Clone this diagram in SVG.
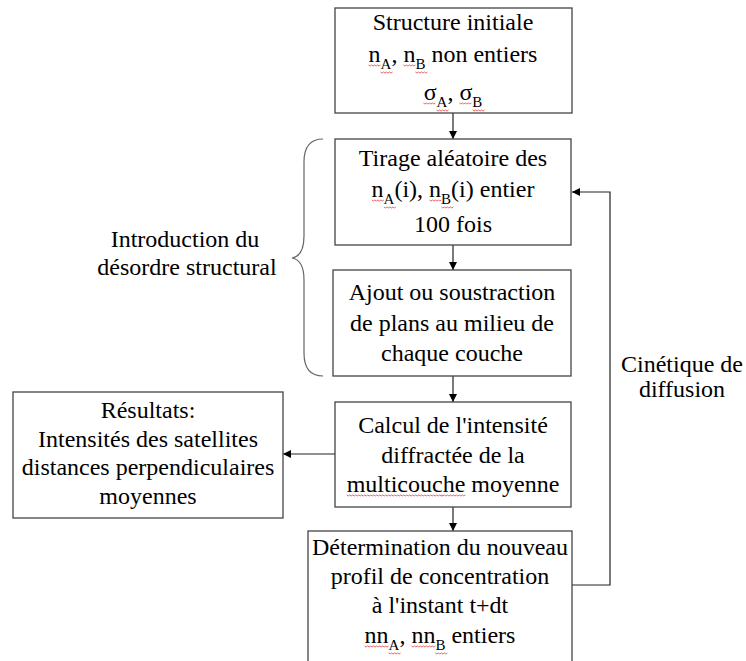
<svg xmlns="http://www.w3.org/2000/svg" width="746" height="661" viewBox="0 0 746 661">
<style>
.box{fill:#fff;stroke:#444;stroke-width:1.3}
.t{font-family:"Liberation Serif","Times New Roman",Times,serif;font-size:24px;fill:#000;text-anchor:middle}
.s{font-size:15px}
.c{fill:none;stroke:#222;stroke-width:1.2}
.br{fill:none;stroke:#666;stroke-width:1.2}
.wv{fill:none;stroke:#e04040;stroke-width:0.8}
</style>
<defs>
<marker id="ah" markerWidth="8" markerHeight="10" refX="8" refY="5" orient="auto" markerUnits="userSpaceOnUse">
<path d="M0,1 L8,5 L0,9 Z" fill="#000"/>
</marker>
<path id="w12" class="wv" d="M0,0l1.5,1l1.5,-1l1.5,1l1.5,-1l1.5,1l1.5,-1l1.5,1l1.5,-1"/>
<path id="w24" class="wv" d="M0,0l1.5,1l1.5,-1l1.5,1l1.5,-1l1.5,1l1.5,-1l1.5,1l1.5,-1l1.5,1l1.5,-1l1.5,1l1.5,-1l1.5,1l1.5,-1l1.5,1l1.5,-1"/>
</defs>
<rect width="746" height="661" fill="#fff"/>
<g id="connectors">
<line class="c" x1="453" y1="113" x2="453" y2="139" marker-end="url(#ah)"/>
<line class="c" x1="453" y1="245" x2="453" y2="270" marker-end="url(#ah)"/>
<line class="c" x1="453" y1="376" x2="453" y2="402" marker-end="url(#ah)"/>
<line class="c" x1="453" y1="507" x2="453" y2="531" marker-end="url(#ah)"/>
<line class="c" x1="335" y1="454" x2="283" y2="454" marker-end="url(#ah)"/>
<polyline class="c" points="572,585 610,585 610,192 572,192" marker-end="url(#ah)"/>
</g>
<g id="n1">
<rect class="box" x="335" y="8" width="237" height="105"/>
<text class="t" x="453" y="30">Structure initiale</text>
<text class="t" x="453" y="62">n<tspan class="s" dy="7">A</tspan><tspan dy="-7">, n</tspan><tspan class="s" dy="7">B</tspan><tspan dy="-7"> non entiers</tspan></text>
<text class="t" x="453" y="100">σ<tspan class="s" dy="7">A</tspan><tspan dy="-7">, σ</tspan><tspan class="s" dy="7">B</tspan></text>
<use href="#w12" x="368.6" y="65"/><use href="#w12" x="380.6" y="72"/>
<use href="#w12" x="403.4" y="65"/><use href="#w12" x="415.4" y="72"/>
<use href="#w12" x="423.4" y="103"/><use href="#w12" x="436.6" y="110"/>
<use href="#w12" x="459.4" y="103"/><use href="#w12" x="472.6" y="110"/>
</g>
<g id="n2">
<rect class="box" x="335" y="139" width="236" height="106"/>
<text class="t" x="453" y="166">Tirage aléatoire des</text>
<text class="t" x="453" y="197">n<tspan class="s" dy="7">A</tspan><tspan dy="-7">(i), n</tspan><tspan class="s" dy="7">B</tspan><tspan dy="-7">(i) entier</tspan></text>
<text class="t" x="453" y="232">100 fois</text>
<use href="#w12" x="371.9" y="200"/><use href="#w12" x="383.9" y="207"/>
<use href="#w12" x="429.4" y="200"/><use href="#w12" x="441.4" y="207"/>
</g>
<g id="n3">
<rect class="box" x="333" y="270" width="238" height="106"/>
<text class="t" x="452" y="300">Ajout ou soustraction</text>
<text class="t" x="452" y="331">de plans au milieu de</text>
<text class="t" x="452" y="361">chaque couche</text>
</g>
<g id="n4">
<rect class="box" x="335" y="402" width="236" height="105"/>
<text class="t" x="453" y="433">Calcul de l'intensité</text>
<text class="t" x="453" y="463">diffractée de la</text>
<text class="t" x="453" y="492">multicouche moyenne</text>
<use href="#w24" x="346.7" y="495"/><use href="#w24" x="370.7" y="495"/><use href="#w24" x="394.7" y="495"/><use href="#w24" x="418.7" y="495"/><use href="#w24" x="441.4" y="495"/>
</g>
<g id="n5">
<rect class="box" x="308" y="531" width="264" height="140"/>
<text class="t" x="440" y="555">Détermination du nouveau</text>
<text class="t" x="440" y="584">profil de concentration</text>
<text class="t" x="440" y="613">à l'instant t+dt</text>
<text class="t" x="440" y="643">nn<tspan class="s" dy="7">A</tspan><tspan dy="-7">, nn</tspan><tspan class="s" dy="7">B</tspan><tspan dy="-7"> entiers</tspan></text>
<use href="#w24" x="364.6" y="646"/><use href="#w12" x="388.6" y="653"/>
<use href="#w24" x="411.4" y="646"/><use href="#w12" x="435.4" y="653"/>
</g>
<g id="n6">
<rect class="box" x="13" y="392" width="270" height="126"/>
<text class="t" x="148" y="418">Résultats:</text>
<text class="t" x="148" y="447">Intensités des satellites</text>
<text class="t" x="148" y="475">distances perpendiculaires</text>
<text class="t" x="148" y="504">moyennes</text>
</g>
<g id="brace">
<path class="br" d="M323,139 Q304,139 304,162 L304,236 Q304,256 292,258 Q304,260 304,280 L304,353 Q304,376 323,376"/>
<text class="t" x="185" y="247">Introduction du</text>
<text class="t" x="187" y="275">désordre structural</text>
</g>
<g id="label-cinetique">
<text class="t" x="682" y="372">Cinétique de</text>
<text class="t" x="682" y="397">diffusion</text>
</g>
</svg>
